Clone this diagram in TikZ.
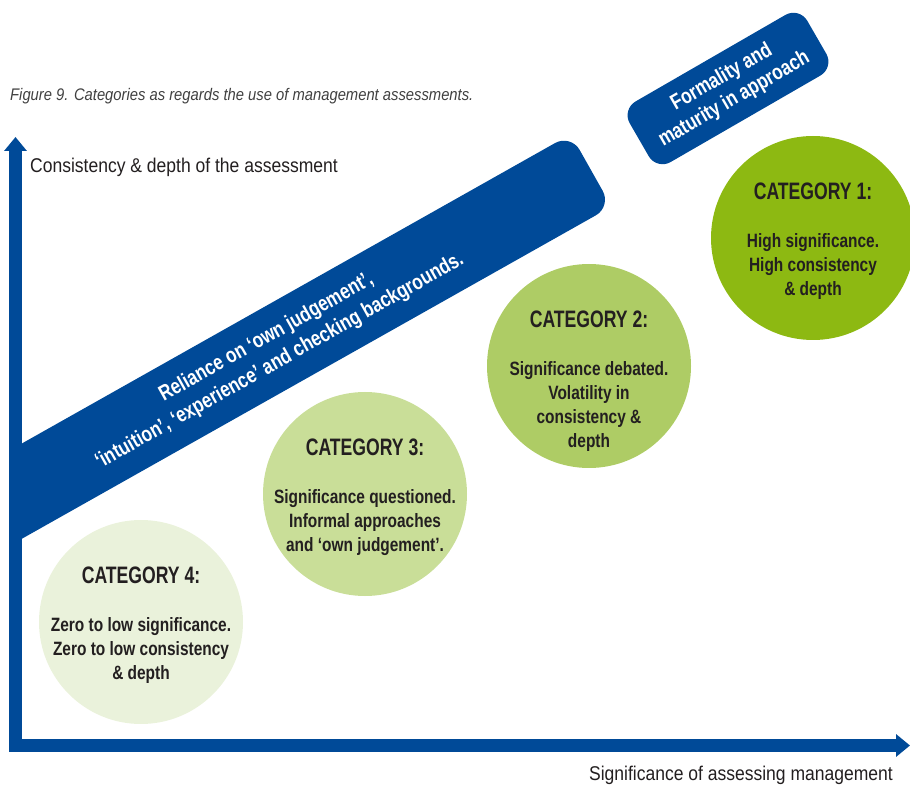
\documentclass[tikz,border=0pt]{standalone}
\usepackage{fontspec}
\setmainfont{Liberation Sans}[FakeStretch=0.88]
\newfontfamily\condbold{Liberation Sans}[FakeStretch=0.8]
\newfontfamily\narrowbold{Liberation Sans}[FakeStretch=0.74]
\usetikzlibrary{calc,positioning,arrows.meta}

\definecolor{bandblue}{RGB}{0,74,152}
\definecolor{catone}{RGB}{141,185,18}
\definecolor{cattwo}{RGB}{174,204,101}
\definecolor{catthree}{RGB}{201,222,152}
\definecolor{catfour}{RGB}{234,242,219}
\definecolor{darktext}{RGB}{35,31,32}
\definecolor{capgray}{RGB}{64,64,64}

\begin{document}
\begin{tikzpicture}[x=1pt,y=1pt,
  axis/.style={line width=13pt, draw=bandblue, line join=miter,
    {Triangle[width=22pt,length=14pt]}-{Triangle[width=22pt,length=14pt]}},
  axislabel/.style={text=darktext, inner sep=0pt, font=\fontsize{19.9}{24}\selectfont},
  ribbon/.style={fill=bandblue, text=white, rounded corners=18pt, align=center,
    font=\condbold\bfseries\fontsize{21.5}{27}\selectfont},
  catcircle/.style={circle, minimum size=204pt, inner sep=0pt},
  cattitle/.style={text=darktext, inner sep=0pt, font=\narrowbold\bfseries\fontsize{23.8}{28}\selectfont},
  catbody/.style={text=darktext, inner sep=0pt, anchor=north, align=center,
    font=\condbold\bfseries\fontsize{19.3}{24}\selectfont}]

  \useasboundingbox (0,0) rectangle (910,785);

  \node [anchor=west, inner sep=0pt, text=capgray, font=\itshape\fontsize{16.8}{20}\selectfont] at (10,689) (caption) {Figure 9. Categories as regards the use of management assessments.};

  % band, cut off at the vertical axis
  \begin{scope}
    \clip (15.5,0) rectangle (910,785);
    \node [ribbon, rotate=29.4, minimum width=730pt, minimum height=83pt] at ($(22,290.5)+(29.4:290)+(119.4:3)$) (reliance) {Reliance on ‘own judgement’,\\‘intuition’, ‘experience’ and checking backgrounds.};
  \end{scope}

  \coordinate (origin) at (15.5,39.5);
  \coordinate (ytip) at (15.5,648);
  \coordinate (xtip) at (910,39.5);
  \draw [axis] (ytip) -- (origin) -- (xtip);

  \node [axislabel, anchor=west] at (30,618) (ylabel) {Consistency \& depth of the assessment};
  \node [axislabel, anchor=east] at (893,10) (xlabel) {Significance of assessing management};

  \node [ribbon, rotate=30, minimum width=205pt, minimum height=70pt, rounded corners=16pt, font=\condbold\bfseries\fontsize{21.5}{25}\selectfont] at (728,696.5) (formality) {Formality and\\maturity in approach};

  \foreach \n/\col in {1/catone,2/cattwo,3/catthree,4/catfour}
  {
    \pgfmathsetmacro\cx{141+224*(4-\n)}
    \pgfmathsetmacro\cy{163+128*(4-\n)}
    \node [catcircle, fill=\col] at (\cx,\cy) (cat_\n) {};
    \node [cattitle] at ($(cat_\n)+(0,47)$) (cat_title_\n) {CATEGORY \n:};
  }

  \node [catbody] at ($(cat_1)+(0,5)$) (cat_text_1) {High significance.\\High consistency\\\& depth};
  \node [catbody] at ($(cat_2)+(0,5)$) (cat_text_2) {Significance debated.\\Volatility in\\consistency \&\\depth};
  \node [catbody] at ($(cat_3)+(0,5)$) (cat_text_3) {Significance questioned.\\Informal approaches\\and ‘own judgement’.};
  \node [catbody] at ($(cat_4)+(0,5)$) (cat_text_4) {Zero to low significance.\\Zero to low consistency\\\& depth};

\end{tikzpicture}
\end{document}
